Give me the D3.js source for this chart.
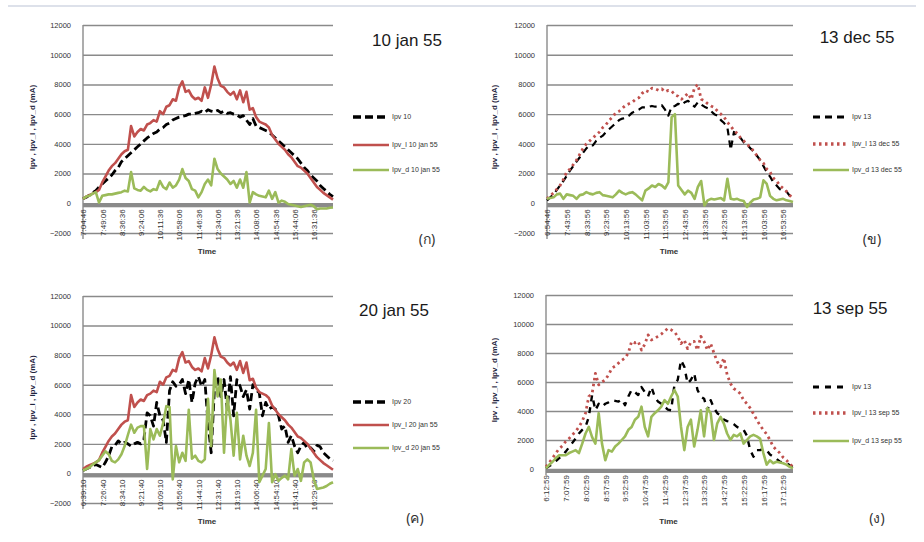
<!DOCTYPE html>
<html>
<head>
<meta charset="utf-8">
<script src="https://cdn.jsdelivr.net/npm/d3@7"></script>
<style>
  body { margin: 0; background: #fff; }
  svg { display: block; font-family: "Liberation Sans", Arial, sans-serif; }
</style>
</head>
<body>
<svg id="chart" width="924" height="542"></svg>
<script>
// ---- data (one value per sample, x is the sample index) ----

// tick labels, one every 6 samples
const ticks10jan = ['7:04:46', '7:49:06', '8:36:36', '9:24:06', '10:11:36', '10:58:06', '11:46:36', '12:34:06', '13:21:36', '14:08:06', '14:54:36', '15:44:06', '16:31:36'];
const ticks13dec = ['6:54:46', '7:43:56', '8:33:56', '9:23:56', '10:13:56', '11:03:56', '11:53:56', '12:43:56', '13:33:56', '14:23:56', '15:13:56', '16:03:56', '16:53:56'];
const ticks20jan = ['6:39:10', '7:26:40', '8:34:10', '9:21:40', '10:09:10', '10:56:40', '11:44:10', '12:31:40', '13:19:10', '14:06:40', '14:54:10', '15:41:40', '16:29:10'];
const ticks13sep = ['6:12:59', '7:07:59', '8:02:59', '8:57:59', '9:52:59', '10:47:59', '11:42:59', '12:37:59', '13:32:59', '14:27:59', '15:22:59', '16:17:59', '17:12:59'];

// 10 jan 55
const ipv10 = [300, 400, 550, 700, 850, 1100, 1300, 1500, 1700, 1900, 2200, 2400, 2800, 3000, 3200, 3400, 3600, 3800, 4000, 4200,
  4400, 4550, 4700, 4800, 5000, 5100, 5300, 5400, 5600, 5700, 5800, 5850, 5900, 6000, 6000, 6050, 6100, 6200, 6100, 6300,
  6200, 6150, 6250, 6100, 6200, 6050, 6100, 6000, 5950, 5800, 5900, 5600, 5300, 5700, 5200, 5100, 5000, 4900, 4800, 4600,
  4400, 4200, 4000, 3800, 3600, 3400, 3200, 3000, 2700, 2400, 2200, 1900, 1700, 1500, 1200, 1000, 800, 600, 450];
const ipvL10jan = [300, 450, 550, 650, 750, 900, 1400, 1800, 2200, 2500, 2700, 3000, 3300, 3500, 3600, 5200, 4500, 4800, 5000, 4900,
  5300, 5400, 5600, 5500, 6200, 6000, 6500, 6600, 7000, 6900, 7800, 8200, 7500, 7600, 7200, 7000, 7100, 6900, 7800, 7100,
  8000, 9200, 8400, 7900, 7800, 7500, 7300, 7500, 7000, 7600, 6800, 7500, 6300, 6400, 5800, 5500, 5400, 5300, 5100, 4600,
  4300, 4000, 3800, 3600, 3300, 3100, 2800, 2500, 2400, 2200, 2000, 1700, 1400, 1100, 900, 700, 550, 400, 250];
const ipvD10jan = [300, 450, 500, 650, 750, 50, 500, 550, 600, 600, 650, 700, 750, 850, 800, 2100, 1000, 900, 850, 1100,
  900, 800, 950, 900, 1500, 1100, 950, 1400, 1050, 1200, 1600, 2300, 1700, 1500, 950, 850, 400, 750, 1300, 1600,
  1200, 3000, 2300, 2000, 1800, 1600, 1300, 1500, 1050, 1600, 1050, 2100, 50, 750, 600, 500, 450, 400, 850, 300,
  750, 50, 180, 100, -50, -100, -150, -200, -250, -200, -150, -100, -200, -400, -350, -350, -350, -300, -280];

// 13 dec 55
const ipv13dec = [200, 400, 600, 900, 1200, 1500, 1850, 2200, 2500, 2800, 3100, 3400, 3700, 3900, 3900, 4200, 4400, 4550, 4800, 5000,
  5200, 5400, 5600, 5700, 5750, 5900, 6100, 6200, 6300, 6450, 6450, 6500, 6550, 6500, 6550, 6600, 6300, 5900, 6500, 6550,
  6700, 6600, 6800, 6900, 6700, 6500, 6800, 6650, 6500, 6400, 6200, 6000, 5900, 5600, 5400, 5100, 3600, 4800, 4500, 4400,
  4100, 3950, 3700, 3500, 3200, 2900, 2500, 2100, 1800, 1400, 1200, 950, 850, 800, 500, 300];
const ipvL13dec = [300, 500, 700, 950, 1200, 1600, 2100, 2300, 2600, 2900, 3300, 3700, 4000, 4200, 4400, 4600, 4800, 5100, 5300, 5600,
  5800, 6100, 6200, 6400, 6600, 6700, 6800, 7000, 7100, 7400, 7600, 7500, 7750, 7700, 7600, 7700, 7500, 7600, 7550, 7300,
  7200, 7000, 7200, 7400, 7000, 7800, 8000, 7000, 6900, 6700, 6550, 6450, 6200, 6000, 5800, 5450, 5200, 4900, 4700, 4400,
  4200, 3950, 3800, 3500, 3200, 2900, 2700, 2300, 2100, 1700, 1500, 1200, 1000, 800, 550, 300];
const ipvD13dec = [300, 350, 400, 600, 650, 300, 600, 550, 500, 300, 550, 600, 750, 650, 600, 700, 750, 550, 500, 450,
  400, 600, 850, 700, 600, 700, 750, 600, 400, 200, 850, 1000, 1200, 1100, 1300, 1200, 1000, 1400, 5800, 6000,
  1200, 900, 600, 850, 700, 300, 1100, 1500, -150, 200, 300, 250, 300, 350, 200, 1650, 300, 250, 300, 200,
  150, -250, 50, 250, 300, 400, 1550, 1300, 500, 300, 200, 250, 300, 200, 150, 80];

// 20 jan 55
const ipv20 = [200, 300, 400, 500, 600, 500, 400, 750, 1200, 1800, 1900, 2200, 2000, 2100, 2000, 1850, 2000, 2100, 2000, 2300,
  4100, 3900, 3200, 4800, 3900, 3600, 2100, 5600, 6200, 5900, 6000, 6350, 5400, 6350, 4800, 6100, 6550, 5900, 6350, 3400,
  1400, 5650, 6550, 5200, 6350, 4350, 6550, 3900, 6350, 5900, 5200, 5650, 4350, 6000, 5650, 5450, 3900, 4800, 4350, 4500,
  4350, 3900, 3000, 3200, 2100, 2550, 1850, 1400, 1850, 2100, 1650, 1750, 1500, 1900, 1800, 1400, 1200, 1000, 850];
const ipvL20jan = [300, 450, 550, 650, 750, 900, 1400, 1800, 2200, 2500, 2700, 3000, 3300, 3500, 3600, 5300, 4500, 4800, 5000, 4900,
  5300, 5400, 5600, 5500, 6200, 6000, 6500, 6600, 7000, 6900, 7800, 8200, 7500, 7600, 7200, 7000, 7100, 6900, 7800, 7100,
  8000, 9200, 8400, 7900, 7800, 7500, 7300, 7500, 7000, 7600, 6800, 7500, 6300, 6400, 5800, 5500, 5400, 5300, 5100, 4600,
  4300, 4000, 3800, 3600, 3300, 3100, 2800, 2500, 2400, 2200, 2000, 1700, 1400, 1100, 900, 700, 550, 400, 250];
const ipvD20jan = [200, 300, 400, 600, 750, 900, 1200, 1500, 1300, 850, 750, 950, 1300, 1850, 2600, 3300, 2750, 3100, 3200, 3200,
  300, 3000, 2300, 3000, 2550, 3400, 4550, 4500, -400, 1850, 750, 1400, 850, 4300, 1000, 1200, 850, 750, 950, 5050,
  1850, 7000, 5200, 6350, 1400, 5200, 3650, 1200, 4100, 950, 2550, 1200, 500, 1400, 4300, -600, -150, 300, 3400, -600,
  -50, -500, -300, -150, -400, 1650, -150, 300, -500, 750, 950, 750, -400, -1050, -1000, -950, -850, -700, -600];

// 13 sep 55
const ipv13sep = [50, 200, 350, 550, 750, 950, 1200, 1500, 1800, 2100, 2450, 2700, 2900, 3600, 5100, 4050, 4500, 4300, 4500, 4600,
  4750, 4700, 4650, 4800, 4400, 5000, 5450, 5300, 5100, 5650, 5300, 5000, 5650, 5000, 4650, 4500, 4300, 4100, 4050, 5800,
  6150, 7500, 7050, 5900, 6150, 6600, 5450, 5000, 4850, 4050, 4750, 4200, 3850, 3700, 3400, 3300, 3250, 3100, 2900, 2800,
  2700, 2300, 1300, 850, 1300, 1300, 1400, 1300, 1000, 850, 700, 500, 450, 400, 250, 150];
const ipvL13sep = [150, 450, 750, 1100, 1400, 1600, 1900, 2100, 2350, 2600, 2900, 3300, 3850, 5000, 5200, 6600, 5800, 6000, 6150, 6500,
  6950, 7100, 7300, 7500, 7650, 8000, 8800, 8700, 8800, 8200, 8600, 9250, 8900, 9000, 9150, 9300, 9500, 9700, 9600, 9450,
  9150, 8650, 8900, 8300, 8750, 8800, 8200, 9150, 8800, 8200, 8650, 8000, 7400, 7050, 7650, 6500, 5900, 5550, 5400, 5200,
  4750, 4500, 4200, 3800, 3400, 3000, 2700, 2400, 2000, 1550, 1300, 1100, 800, 600, 350, 150];
const ipvD13sep = [50, 300, 500, 750, 950, 950, 950, 1100, 1200, 1300, 1100, 1750, 2450, 2900, 2200, 1750, 3850, 1750, 600, 1300,
  1200, 1550, 1750, 2000, 2250, 2700, 2900, 3400, 3600, 4300, 2900, 2250, 3600, 3850, 4050, 4300, 4750, 4500, 5000, 5450,
  5000, 2900, 1300, 2900, 3400, 1550, 2700, 4050, 2250, 4200, 3850, 2000, 3150, 3600, 3150, 2450, 2000, 2350, 2250, 2450,
  1750, 2000, 2250, 2350, 2250, 2100, 1100, 300, 600, 400, 500, 450, 400, 300, 150, 50];

const yTitle = 'Ipv , Ipv_l , Ipv_d (mA)';

// ---- styles ----
const RED = '#c0504d';
const GREEN = '#9bbb59';
const BLACK = '#000000';

const svg = d3.select('#chart');

// faint rule along the top of the page
svg.append('line')
  .attr('x1', 8).attr('x2', 916)
  .attr('y1', 6).attr('y2', 6)
  .attr('stroke', '#dde1ea')
  .attr('stroke-width', 2);

// panel layouts
const panels = [
  {
    left: 83, right: 333, top: 25, bottom: 233, yMin: -2000, ticks: ticks10jan,
    title: '10 jan 55', titleX: 407, titleY: 46, tag: '(ก)', tagX: 427, tagY: 244,
    yTitleX: 35, timeY: 254, legendX: 353, legendTextX: 392, legendY: [117, 145, 170],
    series: [
      { name: 'Ipv 10', values: ipv10, color: BLACK, dash: '8,4', width: 2.8 },
      { name: 'Ipv_l 10 jan 55', values: ipvL10jan, color: RED, dash: null, width: 2.6 },
      { name: 'Ipv_d 10 jan 55', values: ipvD10jan, color: GREEN, dash: null, width: 2.6 }
    ]
  },
  {
    left: 547, right: 793, top: 25, bottom: 233, yMin: -2000, ticks: ticks13dec,
    title: '13 dec 55', titleX: 857, titleY: 43, tag: '(ข)', tagX: 872, tagY: 244,
    yTitleX: 497, timeY: 254, legendX: 813, legendTextX: 852, legendY: [117, 144, 170],
    series: [
      { name: 'Ipv 13', values: ipv13dec, color: BLACK, dash: '7,5', width: 2.2 },
      { name: 'Ipv_l 13 dec 55', values: ipvL13dec, color: RED, dash: '2.5,3.5', width: 2.8 },
      { name: 'Ipv_d 13 dec 55', values: ipvD13dec, color: GREEN, dash: null, width: 2.6 }
    ]
  },
  {
    left: 83, right: 333, top: 296, bottom: 503, yMin: -2000, ticks: ticks20jan,
    title: '20 jan 55', titleX: 394, titleY: 316, tag: '(ค)', tagX: 415, tagY: 523,
    yTitleX: 35, timeY: 524, legendX: 353, legendTextX: 392, legendY: [402, 425, 448],
    series: [
      { name: 'Ipv 20', values: ipv20, color: BLACK, dash: '8,4', width: 2.8 },
      { name: 'Ipv_l 20 jan 55', values: ipvL20jan, color: RED, dash: null, width: 2.6 },
      { name: 'Ipv_d 20 jan 55', values: ipvD20jan, color: GREEN, dash: null, width: 2.6 }
    ]
  },
  {
    left: 546, right: 793, top: 295, bottom: 469, yMin: 0, ticks: ticks13sep,
    title: '13 sep 55', titleX: 850, titleY: 314, tag: '(ง)', tagX: 877, tagY: 523,
    yTitleX: 497, timeY: 524, legendX: 813, legendTextX: 852, legendY: [387, 413, 441],
    series: [
      { name: 'Ipv 13', values: ipv13sep, color: BLACK, dash: '6,6', width: 2.4 },
      { name: 'Ipv_l 13 sep 55', values: ipvL13sep, color: RED, dash: '2.5,3.5', width: 2.8 },
      { name: 'Ipv_d 13 sep 55', values: ipvD13sep, color: GREEN, dash: null, width: 2.6 }
    ]
  }
];

panels.forEach(drawPanel);

function drawPanel(p) {
  const g = svg.append('g');
  const n = p.series[0].values.length;

  const x = d3.scaleLinear()
    .domain([0, n - 1])
    .range([p.left, p.right]);

  const y = d3.scaleLinear()
    .domain([p.yMin, 12000])
    .range([p.bottom, p.top]);

  // horizontal grid + y labels
  const yTicks = d3.range(p.yMin, 12001, 2000);
  const yAxis = g.append('g')
    .attr('transform', `translate(${p.left},0)`)
    .call(d3.axisLeft(y)
      .tickValues(yTicks)
      .tickSize(-(p.right - p.left))
      .tickPadding(12)
      .tickFormat(d3.format('d')));
  yAxis.select('.domain').remove();
  yAxis.selectAll('line')
    .attr('stroke', '#8a8a8a')
    .attr('stroke-width', 1.4);
  yAxis.selectAll('text')
    .attr('font-size', '7.5px')
    .attr('font-family', '"Liberation Sans", Arial, sans-serif')
    .attr('fill', '#333');

  // vertical axis line
  g.append('line')
    .attr('x1', p.left).attr('x2', p.left)
    .attr('y1', p.top).attr('y2', p.bottom + 6)
    .attr('stroke', '#8a8a8a')
    .attr('stroke-width', 1.4);

  // thick grey category axis at zero
  g.append('rect')
    .attr('x', p.left)
    .attr('y', y(0))
    .attr('width', p.right - p.left)
    .attr('height', 4)
    .attr('fill', '#8a8a8a');

  // category labels, rotated
  const xAxis = g.append('g')
    .attr('transform', `translate(0,${y(0)})`)
    .call(d3.axisBottom(x)
      .tickValues(d3.range(0, p.ticks.length * 6, 6))
      .tickSize(0)
      .tickFormat((d, i) => p.ticks[i]));
  xAxis.select('.domain').remove();
  xAxis.selectAll('text')
    .attr('transform', 'rotate(-90)')
    .attr('text-anchor', 'end')
    .attr('x', -6)
    .attr('y', 0)
    .attr('dy', '0.35em')
    .attr('font-size', '8px')
    .attr('font-family', '"Liberation Sans", Arial, sans-serif')
    .attr('fill', '#333');

  // series lines
  const line = d3.line()
    .x((d, i) => x(i))
    .y(d => y(d));

  p.series.forEach(s => {
    g.append('path')
      .datum(s.values)
      .attr('d', line)
      .attr('fill', 'none')
      .attr('stroke', s.color)
      .attr('stroke-width', s.width)
      .attr('stroke-dasharray', s.dash)
      .attr('stroke-linejoin', 'round');
  });

  // legend
  p.series.forEach((s, i) => {
    const ly = p.legendY[i];
    g.append('line')
      .attr('x1', p.legendX).attr('x2', p.legendTextX - 3)
      .attr('y1', ly).attr('y2', ly)
      .attr('stroke', s.color)
      .attr('stroke-width', s.dash ? s.width + 0.6 : s.width)
      .attr('stroke-dasharray', s.dash);
    g.append('text')
      .attr('x', p.legendTextX)
      .attr('y', ly)
      .attr('dy', '0.35em')
      .attr('font-size', '7px')
      .attr('fill', '#333')
      .text(s.name);
  });

  // titles
  g.append('text')
    .attr('x', p.titleX)
    .attr('y', p.titleY)
    .attr('text-anchor', 'middle')
    .attr('font-size', '17px')
    .attr('fill', '#1a1a1a')
    .text(p.title);

  g.append('text')
    .attr('x', p.tagX)
    .attr('y', p.tagY)
    .attr('text-anchor', 'middle')
    .attr('font-size', '14px')
    .attr('font-family', '"Noto Sans", "DejaVu Sans", sans-serif')
    .attr('fill', '#333')
    .text(p.tag);

  g.append('text')
    .attr('x', (p.left + p.right) / 2 - 1)
    .attr('y', p.timeY)
    .attr('text-anchor', 'middle')
    .attr('font-size', '8px')
    .attr('font-weight', 'bold')
    .attr('fill', '#333')
    .text('Time');

  g.append('text')
    .attr('transform', `translate(${p.yTitleX},${(p.top + p.bottom) / 2 - 2}) rotate(-90)`)
    .attr('text-anchor', 'middle')
    .attr('font-size', '8px')
    .attr('font-weight', 'bold')
    .attr('fill', '#1f2540')
    .text(yTitle);
}
</script>
</body>
</html>
